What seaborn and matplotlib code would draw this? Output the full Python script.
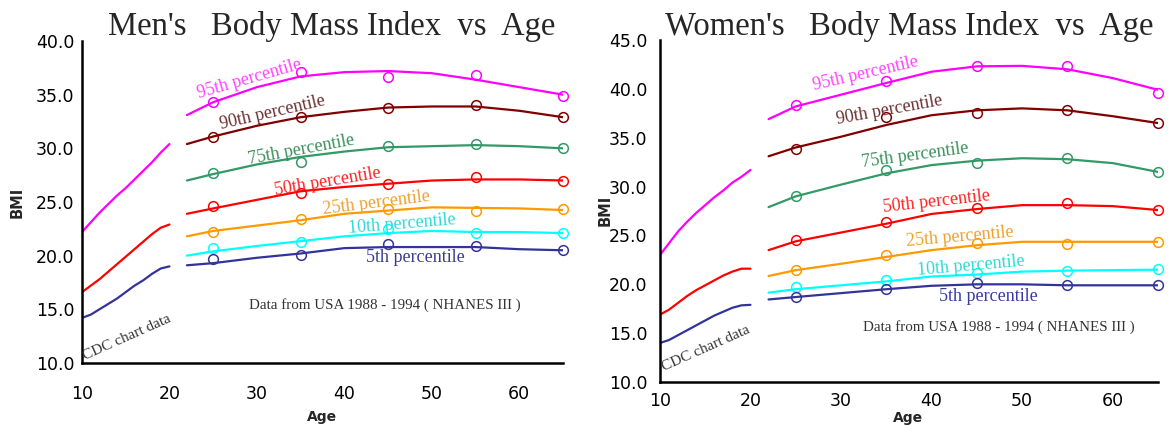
import matplotlib
matplotlib.use('Agg')
import matplotlib.pyplot as plt
import seaborn as sns

# ---- data ----
cdc_age = [10, 11, 12, 13, 14, 15, 16, 17, 18, 19, 20]
fit_age = [22, 25, 30, 35, 40, 45, 50, 55, 60, 65]
point_age = [25, 35, 45, 55, 65]

percentiles = ['95th', '90th', '75th', '50th', '25th', '10th', '5th']
line_colors = ['#ff00ff', '#800000', '#339966', '#ff0000', '#ff9900', '#00ffff', '#333399']
text_colors = ['#ff44ff', '#6b3030', '#3a8f5a', '#ff2020', '#f0a030', '#30d8d8', '#3a3a9c']

# men, CDC chart data (ages 10-20): 95th, 50th, 5th
men_cdc_95 = [22.2, 23.1, 24.0, 24.8, 25.6, 26.3, 27.1, 27.9, 28.7, 29.6, 30.4]
men_cdc_50 = [16.6, 17.2, 17.8, 18.5, 19.2, 19.9, 20.6, 21.3, 22.0, 22.6, 22.9]
men_cdc_5 = [14.2, 14.5, 15.0, 15.5, 16.0, 16.6, 17.2, 17.7, 18.3, 18.8, 19.0]

# men, NHANES III fitted curves
men_fit_95 = [33.1, 34.3, 35.7, 36.7, 37.1, 37.2, 37.0, 36.4, 35.7, 35.0]
men_fit_90 = [30.4, 31.1, 32.1, 32.9, 33.4, 33.8, 33.9, 33.9, 33.5, 32.9]
men_fit_75 = [27.0, 27.6, 28.5, 29.2, 29.7, 30.1, 30.2, 30.3, 30.2, 30.0]
men_fit_50 = [23.9, 24.4, 25.2, 26.0, 26.4, 26.7, 27.0, 27.1, 27.1, 27.0]
men_fit_25 = [21.8, 22.3, 22.8, 23.3, 23.9, 24.2, 24.5, 24.45, 24.4, 24.25]
men_fit_10 = [20.0, 20.4, 20.9, 21.35, 21.8, 22.1, 22.3, 22.2, 22.2, 22.1]
men_fit_5 = [19.1, 19.3, 19.8, 20.2, 20.7, 20.8, 20.8, 20.8, 20.6, 20.5]

# men, NHANES III data points
men_pt_95 = [34.3, 37.1, 36.6, 36.8, 34.9]
men_pt_90 = [31.1, 32.9, 33.8, 34.0, 32.9]
men_pt_75 = [27.7, 28.75, 30.2, 30.4, 30.0]
men_pt_50 = [24.65, 25.8, 26.7, 27.35, 27.0]
men_pt_25 = [22.2, 23.45, 24.3, 24.2, 24.3]
men_pt_10 = [20.7, 21.3, 22.5, 22.1, 22.1]
men_pt_5 = [19.7, 20.05, 21.1, 20.9, 20.5]

# women, CDC chart data
women_cdc_95 = [23.0, 24.2, 25.4, 26.4, 27.3, 28.1, 28.9, 29.6, 30.4, 31.0, 31.7]
women_cdc_50 = [16.9, 17.4, 18.1, 18.8, 19.4, 19.9, 20.4, 20.9, 21.3, 21.6, 21.6]
women_cdc_5 = [14.0, 14.3, 14.8, 15.3, 15.8, 16.3, 16.8, 17.2, 17.6, 17.85, 17.9]

# women, NHANES III fitted curves
women_fit_95 = [36.9, 38.2, 39.4, 40.6, 41.75, 42.3, 42.35, 42.0, 41.1, 39.9]
women_fit_90 = [33.1, 34.0, 35.1, 36.3, 37.3, 37.8, 38.0, 37.8, 37.2, 36.5]
women_fit_75 = [27.9, 29.0, 30.2, 31.35, 32.2, 32.65, 32.9, 32.8, 32.4, 31.5]
women_fit_50 = [23.5, 24.4, 25.3, 26.2, 27.2, 27.7, 28.1, 28.1, 28.0, 27.6]
women_fit_25 = [20.85, 21.45, 22.1, 22.8, 23.5, 24.0, 24.35, 24.35, 24.35, 24.35]
women_fit_10 = [19.15, 19.5, 19.9, 20.3, 20.8, 21.0, 21.3, 21.4, 21.45, 21.5]
women_fit_5 = [18.45, 18.7, 19.1, 19.5, 19.85, 20.0, 20.0, 19.9, 19.9, 19.9]

# women, NHANES III data points
women_pt_95 = [38.35, 40.8, 42.3, 42.3, 39.6]
women_pt_90 = [33.8, 37.1, 37.55, 37.8, 36.5]
women_pt_75 = [29.0, 31.7, 32.4, 32.9, 31.5]
women_pt_50 = [24.5, 26.4, 27.8, 28.35, 27.6]
women_pt_25 = [21.45, 23.0, 24.2, 24.1, 24.35]
women_pt_10 = [19.7, 20.45, 21.2, 21.4, 21.6]
women_pt_5 = [18.7, 19.5, 20.15, 19.9, 19.9]

source_note = 'Data from USA 1988 - 1994 ( NHANES III )'
cdc_note = 'CDC chart data'

sns.set_style('white')
plt.rcParams['font.family'] = ['DejaVu Sans']
serif = 'Liberation Serif'

fig = plt.figure(figsize=(11.68, 4.25), dpi=100)


def draw_panel(ax, cdc, fits, points, labels, note_pos, cdc_pos, ylim, yticks):
    # CDC curves for 95th, 50th, 5th
    for vals, c in zip(cdc, [line_colors[0], line_colors[3], line_colors[6]]):
        sns.lineplot(x=cdc_age, y=vals, color=c, linewidth=1.6, ax=ax)
    for vals, pts, c in zip(fits, points, line_colors):
        sns.lineplot(x=fit_age, y=vals, color=c, linewidth=1.6, ax=ax)
        sns.lineplot(x=point_age, y=pts, color=c, marker='o', linestyle='',
                     markersize=7, markerfacecolor='none', markeredgecolor=c,
                     markeredgewidth=1.1, ax=ax, clip_on=False)
    for name, tc, (lx, ly, rot) in zip(percentiles, text_colors, labels):
        ax.text(lx, ly, name + ' percentile', color=tc, fontsize=13,
                family=serif, rotation=rot, ha='center', va='center',
                rotation_mode='anchor')
    ax.text(note_pos[0], note_pos[1], source_note, fontsize=10.8,
            family=serif, color='#333333', ha='center', va='center')
    ax.text(cdc_pos[0], cdc_pos[1], cdc_note, fontsize=11, family=serif,
            color='#333333', rotation=cdc_pos[2], ha='center', va='center',
            rotation_mode='anchor')
    ax.set_xlim(10, 65)
    ax.set_ylim(*ylim)
    ax.set_xticks([10, 20, 30, 40, 50, 60])
    ax.set_yticks(yticks)
    ax.set_yticklabels([f'{v:.1f}' for v in yticks])
    for s in ['top', 'right']:
        ax.spines[s].set_visible(False)
    for s in ['left', 'bottom']:
        ax.spines[s].set_linewidth(1.8)
        ax.spines[s].set_color('black')
    ax.tick_params(axis='both', direction='out', length=4, width=1.5,
                   labelsize=12.5, colors='black')
    ax.set_xlabel('Age', fontsize=10, fontweight='bold', va='center')
    ax.set_ylabel('BMI', fontsize=10.5, fontweight='bold', va='center')


ax1 = fig.add_axes([0.0702, 0.146, 0.4118, 0.7575])
draw_panel(
    ax1,
    [men_cdc_95, men_cdc_50, men_cdc_5],
    [men_fit_95, men_fit_90, men_fit_75, men_fit_50, men_fit_25, men_fit_10, men_fit_5],
    [men_pt_95, men_pt_90, men_pt_75, men_pt_50, men_pt_25, men_pt_10, men_pt_5],
    [(29.2, 36.5, 16), (31.8, 33.3, 13), (35.1, 29.85, 10.5), (38.1, 26.9, 9.5),
     (43.7, 24.9, 7), (46.6, 22.95, 4.7), (48.1, 19.8, 0)],
    (44.6, 15.4), (15.1, 12.4, 24),
    (10, 40), [10.0, 15.0, 20.0, 25.0, 30.0, 35.0, 40.0])
ax1.tick_params(axis='x', pad=12)
ax1.tick_params(axis='y', pad=1.5)
ax1.xaxis.set_label_coords(0.5, -0.168)
ax1.yaxis.set_label_coords(-0.135, 0.5)

ax2 = fig.add_axes([0.565, 0.101, 0.4264, 0.805])
draw_panel(
    ax2,
    [women_cdc_95, women_cdc_50, women_cdc_5],
    [women_fit_95, women_fit_90, women_fit_75, women_fit_50, women_fit_25, women_fit_10, women_fit_5],
    [women_pt_95, women_pt_90, women_pt_75, women_pt_50, women_pt_25, women_pt_10, women_pt_5],
    [(32.7, 41.6, 13), (35.3, 37.8, 10.3), (38.2, 33.2, 7.7), (40.6, 28.45, 6.3),
     (43.1, 24.9, 5), (44.3, 21.9, 5), (46.3, 18.8, 0)],
    (47.4, 15.65), (15.1, 13.4, 24),
    (10, 45), [10.0, 15.0, 20.0, 25.0, 30.0, 35.0, 40.0, 45.0])
ax2.tick_params(axis='x', pad=3)
ax2.tick_params(axis='y', pad=5)
ax2.xaxis.set_label_coords(0.498, -0.105)
ax2.yaxis.set_label_coords(-0.11, 0.503)

fig.text(0.0925, 0.918, "Men's   Body Mass Index  vs  Age", fontsize=23.5,
         family=serif, va='baseline', ha='left')
fig.text(0.569, 0.918, "Women's   Body Mass Index  vs  Age", fontsize=23.5,
         family=serif, va='baseline', ha='left')

fig.savefig('out.png', dpi=100)
